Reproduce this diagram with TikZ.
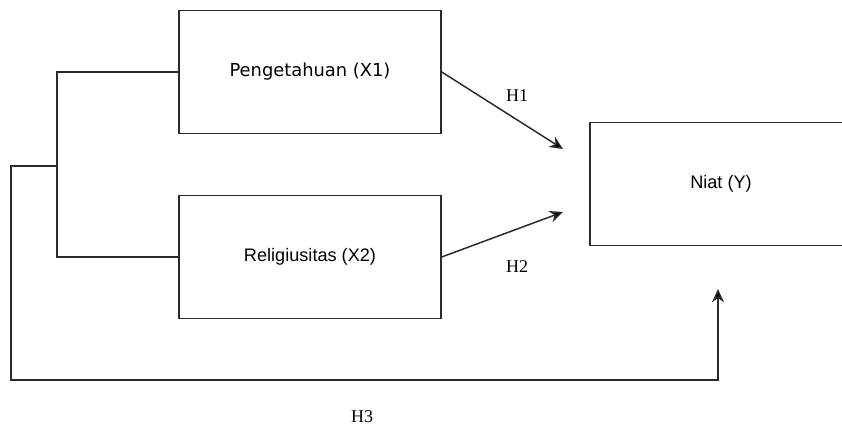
\documentclass[tikz,border=0pt]{standalone}
\usepackage{fontspec}
\setmainfont{Liberation Serif}
\newfontfamily\arialf{Liberation Sans}
\newfontfamily\tahf{DejaVu Sans}
\usetikzlibrary{arrows.meta}
\definecolor{linec}{HTML}{2a2a2a}
\tikzset{
  box/.style={draw=linec, line width=1.1pt, minimum width=196.5pt, minimum height=92.5pt, inner sep=0pt, anchor=center},
  conn/.style={draw=linec, line width=1.1pt},
  arr/.style={conn, -{Stealth[length=10pt,width=9pt,fill=black]}},
  hlab/.style={font=\fontsize{13.5}{15}\selectfont, text=black, inner sep=0pt}
}
\begin{document}
\begin{tikzpicture}[x=0.75pt,y=-0.75pt]
\useasboundingbox (0,0) rectangle (842,428);
\clip (0,0) rectangle (842,428);
\fill[white] (0,0) rectangle (842,428);
\node[box, font=\tahf\fontsize{13.4}{15}\selectfont] (x1) at (310,72) {Pengetahuan (X1)};
\node[box, font=\arialf\fontsize{13.6}{15}\selectfont] (x2) at (310,257) {Religiusitas (X2)};
\node[box, font=\arialf\fontsize{13.6}{15}\selectfont] (y) at (721,184) {Niat (Y)};
\coordinate (j1) at (57,166);
\coordinate (h1e) at (563,149);
\coordinate (h2e) at (563,212);
\coordinate (h3e) at (718,289);
\draw[conn] (x1.west) -- (57,72) |- (x2.west);
\draw[conn] (j1) -- (11,166) -- (11,380) -- (718,380);
\draw[arr] (718,381) -- (h3e);
\draw[arr] (x1.east) -- (h1e);
\draw[arr] (x2.east) -- (h2e);
\node[hlab] (lh1) at (517,96) {H1};
\node[hlab] (lh2) at (517,267) {H2};
\node[hlab] (lh3) at (362,417) {H3};
\end{tikzpicture}
\end{document}
